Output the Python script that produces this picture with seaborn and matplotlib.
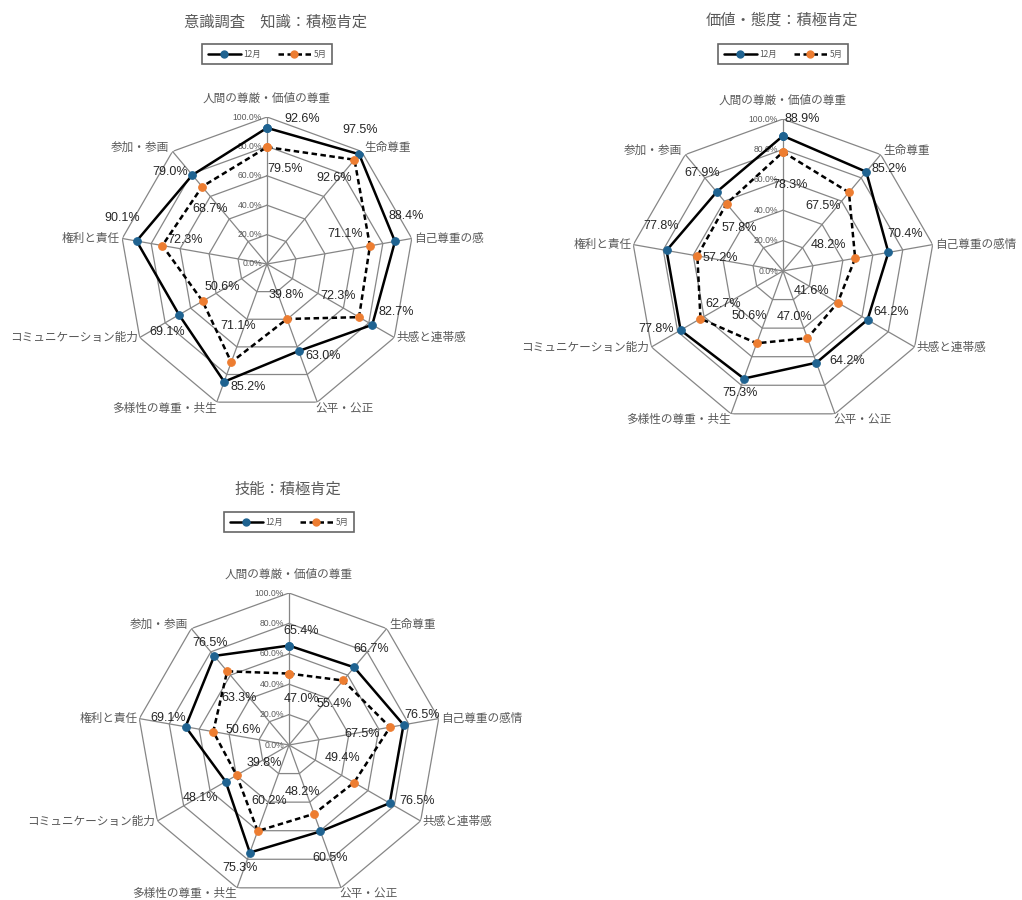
import numpy as np
import matplotlib
matplotlib.use("Agg")
import matplotlib.pyplot as plt
import seaborn as sns
from matplotlib.lines import Line2D
from matplotlib.transforms import Bbox

# ---------------- data ----------------
categories = ['人間の尊厳・価値の尊重', '生命尊重', '自己尊重の感情', '共感と連帯感',
              '公平・公正', '多様性の尊重・共生', 'コミュニケーション能力', '権利と責任', '参加・参画']
titles = ['意識調査　知識：積極肯定', '価値・態度：積極肯定', '技能：積極肯定']
series_names = ['12月', '5月']

knowledge_dec = [92.6, 97.5, 88.4, 82.7, 63.0, 85.2, 69.1, 90.1, 79.0]
knowledge_may = [79.5, 92.6, 71.1, 72.3, 39.8, 71.1, 50.6, 72.3, 68.7]
value_dec = [88.9, 85.2, 70.4, 64.2, 64.2, 75.3, 77.8, 77.8, 67.9]
value_may = [78.3, 67.5, 48.2, 41.6, 47.0, 50.6, 62.7, 57.2, 57.8]
skill_dec = [65.4, 66.7, 76.5, 76.5, 60.5, 75.3, 48.1, 69.1, 76.5]
skill_may = [47.0, 55.4, 67.5, 49.4, 48.2, 60.2, 39.8, 50.6, 63.3]
tick_levels = [0, 20, 40, 60, 80, 100]

# ---------------- layout constants (pixels) ----------------
W, H = 1022, 900
# (center x, center y, radius, title x, title y, legend y)
layouts = [
    (267, 264, 147, 275, 22, 54),
    (783, 271, 152, 782, 20, 54),
    (289, 745, 152, 288, 489, 522),
]
# data-label offsets in pixels (dx right, dy down) per chart, per category
dec_offsets = [
    [(35, -9), (1, -24), (11, -25), (24, -13), (24, 5), (24, 5), (-12, 17), (-14, -23), (-22, -3)],
    [(19, -17), (23, -3), (17, -18), (24, -8), (31, -2), (-4, 14), (-24, -1), (-5, -24), (-14, -19)],
    [(12, -15), (17, -18), (19, -10), (27, -2), (10, 27), (-10, 15), (-25, 16), (-17, -9), (-4, -13)],
]
may_offsets = [
    [(18, 22), (-20, 18), (-25, -12), (-21, -21), (-1, -24), (7, -36), (20, -14), (23, -6), (8, 22)],
    [(7, 33), (-26, 14), (-27, -13), (-26, -12), (-13, -21), (-7, -27), (23, -15), (23, 2), (13, 24)],
    [(12, 25), (-9, 24), (-28, 7), (-12, -25), (-12, -22), (11, -30), (28, -12), (30, -2), (12, 27)],
]

# ---------------- style ----------------
sns.set_theme(style="white")
plt.rcParams['font.family'] = ['Noto Sans CJK JP', 'DejaVu Sans']
NUMFONT = ['Liberation Sans', 'DejaVu Sans']

fig = plt.figure(figsize=(W / 100, H / 100), dpi=100)
fig.patch.set_facecolor('white')

GRID = '#868686'
TXT = '#595959'
DEC_C = '#1f6391'
MAY_C = '#ed7d31'
DASH = (0, (2.2, 1.4))

datasets = [(knowledge_dec, knowledge_may), (value_dec, value_may), (skill_dec, skill_may)]

n = len(categories)
theta = np.arange(n) * 2 * np.pi / n
theta_closed = np.append(theta, 2 * np.pi)

for idx, ((cx, cy, R, tx, ty, ly), (dec, may)) in enumerate(zip(layouts, datasets)):
    ax = fig.add_axes([(cx - R) / W, (H - cy - R) / H, 2 * R / W, 2 * R / H],
                      projection='polar')
    ax.set_theta_zero_location('N')
    ax.set_theta_direction(-1)
    ax.grid(False)
    ax.spines['polar'].set_visible(False)
    ax.patch.set_alpha(0)

    # polygon grid and spokes
    for lvl in tick_levels[1:]:
        ax.plot(theta_closed, [lvl] * (n + 1), color=GRID, lw=0.9, zorder=1)
    for t in theta:
        ax.plot([t, t], [0, 100], color=GRID, lw=0.9, zorder=1)

    # series
    sns.lineplot(x=theta_closed, y=np.append(dec, dec[0]), ax=ax, sort=False,
                 estimator=None, color='black', linewidth=1.8, marker='o',
                 markersize=5.5, markerfacecolor=DEC_C, markeredgecolor=DEC_C, zorder=4)
    sns.lineplot(x=theta_closed, y=np.append(may, may[0]), ax=ax, sort=False,
                 estimator=None, color='black', linewidth=1.8, linestyle=DASH,
                 marker='o', markersize=5.5, markerfacecolor=MAY_C,
                 markeredgecolor=MAY_C, zorder=4)
    ax.set_xlabel('')
    ax.set_ylabel('')
    ax.set_ylim(0, 100)
    ax.set_xticks([])
    ax.set_yticks([])

    # radial tick labels
    for lvl in tick_levels:
        ax.annotate(f'{lvl:.1f}%', xy=(0, lvl), xytext=(-5, 0), textcoords='offset pixels',
                    ha='right', va='center', fontsize=6.2, color=TXT,
                    family=NUMFONT, zorder=2)

    # data labels
    for t, v, (dx, dy) in zip(theta, dec, dec_offsets[idx]):
        ax.annotate(f'{v:.1f}%', xy=(t, v), xytext=(dx, -dy), textcoords='offset pixels',
                    ha='center', va='center', fontsize=9, color='#262626',
                    family=NUMFONT, zorder=5)
    for t, v, (dx, dy) in zip(theta, may, may_offsets[idx]):
        ax.annotate(f'{v:.1f}%', xy=(t, v), xytext=(dx, -dy), textcoords='offset pixels',
                    ha='center', va='center', fontsize=9, color='#262626',
                    family=NUMFONT, zorder=5)

    # category labels
    for k, (t, name) in enumerate(zip(theta, categories)):
        s = np.sin(t)
        if k == 0:
            ha, off = 'center', (0, 19)
        elif k in (1, 8):
            ha, off = ('left', (3, 4)) if s > 0 else ('right', (-3, 4))
        elif k in (4, 5):
            ha, off = ('left', (-2, -6)) if s > 0 else ('right', (0, -6))
        else:
            ha, off = ('left', (2, 0)) if s > 0 else ('right', (-2, 0))
        txt = ax.annotate(name, xy=(t, 100), xytext=off, textcoords='offset pixels',
                          ha=ha, va='center', fontsize=8.4, color=TXT, zorder=5)
        if idx == 0:
            txt.set_clip_box(Bbox.from_extents(0, 0, 484, H))
            txt.set_clip_on(True)

    # title
    fig.text(tx / W, 1 - ty / H, titles[idx], ha='center', va='center',
             fontsize=11, color=TXT)

    # legend
    handles = [
        Line2D([], [], color='black', lw=1.8, marker='o', markersize=5,
               markerfacecolor=DEC_C, markeredgecolor=DEC_C),
        Line2D([], [], color='black', lw=1.8, linestyle=DASH, marker='o',
               markersize=5, markerfacecolor=MAY_C, markeredgecolor=MAY_C),
    ]
    leg = fig.legend(handles, series_names, loc='center',
                     bbox_to_anchor=(cx / W, 1 - ly / H), ncol=2, fontsize=6,
                     frameon=True, fancybox=False, edgecolor='#404040',
                     handlelength=4.0, handletextpad=0.3, columnspacing=2.0,
                     borderpad=0.7, labelcolor=TXT)
    leg.get_frame().set_linewidth(1.2)

fig.savefig('out.png', dpi=100, facecolor='white')
